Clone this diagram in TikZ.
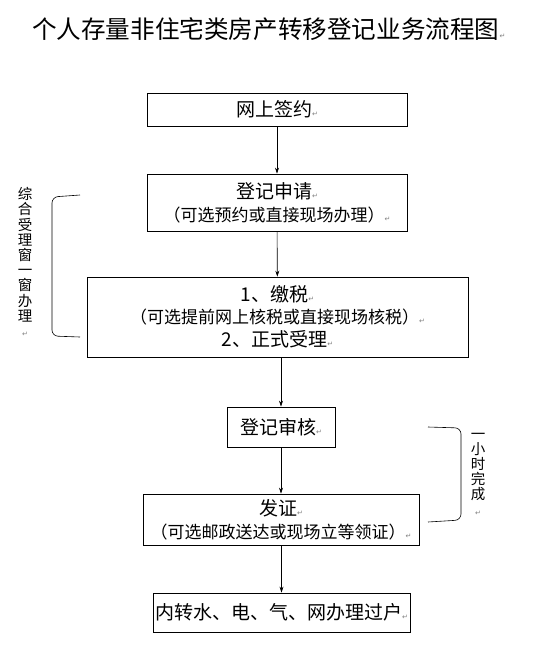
\documentclass[tikz,border=0pt]{standalone}
\usepackage{fontspec}
\setmainfont{Noto Sans CJK SC}
\newfontfamily\markfont{DejaVu Sans}
\usetikzlibrary{arrows.meta,positioning,calc}

\newcommand{\pmark}{{\color{gray}\markfont\fontsize{7}{7}\selectfont ↵}}
\newcommand{\bigline}{\fontsize{19}{23}\selectfont}
\newcommand{\smallline}{\fontsize{17}{22}\selectfont}

\begin{document}
\begin{tikzpicture}[x=1pt,y=-1pt,
    flowbox/.style={draw,thick,align=center,inner sep=0pt,font=\bigline},
    flowarrow/.style={-{Stealth[length=6pt,width=4pt]},semithick},
    bracket/.style={semithick,rounded corners=6pt},
    sidetext/.style={align=center,inner sep=0pt,font=\fontsize{14.5}{15.2}\selectfont}]
    \useasboundingbox[fill=white] (0,0) rectangle (550,657);
    \node[anchor=west,inner sep=0pt] (title) at (32,29) {\fontsize{24.6}{27}\selectfont 个人存量非住宅类房产转移登记业务流程图\pmark};
    \node[flowbox,minimum width=260,minimum height=33] (sign) at (277,109.5) {网上签约\pmark};
    \node[flowbox,minimum width=260,minimum height=57] (apply) at (277,202.5)
        {登记申请\pmark\\{\smallline（可选预约或直接现场办理）\pmark}};
    \node[flowbox,minimum width=381,minimum height=80] (tax) at (277.5,317)
        {1、缴税\pmark\\[-1pt]{\smallline（可选提前网上核税或直接现场核税）\pmark}\\2、正式受理\pmark};
    \node[flowbox,minimum width=108,minimum height=40] (check) at (281,427) {登记审核\pmark};
    \node[flowbox,minimum width=276,minimum height=51] (cert) at (281,519.5)
        {发证\pmark\\{\smallline（可选邮政送达或现场立等领证）\pmark}};
    \node[flowbox,minimum width=257,minimum height=39] (transfer) at (281.5,612.5) {内转水、电、气、网办理过户\pmark};
    \draw[flowarrow] (sign) -- (apply);
    \draw[flowarrow] (apply) -- (tax);
    \draw[flowarrow] (check.north |- tax.south) -- (check.north);
    \draw[flowarrow] (check) -- (check.south |- cert.north);
    \draw[flowarrow] (cert.south -| transfer.north) -- (transfer.north);
    \coordinate (lefttop) at (80,195);
    \coordinate (leftbot) at (80,337);
    \draw[bracket] (lefttop) -- (52,197) -- (52,336) -- (leftbot);
    \node[sidetext] (window) at (25,262) {综\\合\\受\\理\\窗\\一\\窗\\办\\理\\\pmark};
    \coordinate (righttop) at (428,427);
    \coordinate (rightbot) at (428,522);
    \draw[bracket] (righttop) -- (461,428) -- (461,520) -- (rightbot);
    \node[sidetext] (hour) at (478,474) {一\\小\\时\\完\\成\\\pmark};
\end{tikzpicture}
\end{document}
